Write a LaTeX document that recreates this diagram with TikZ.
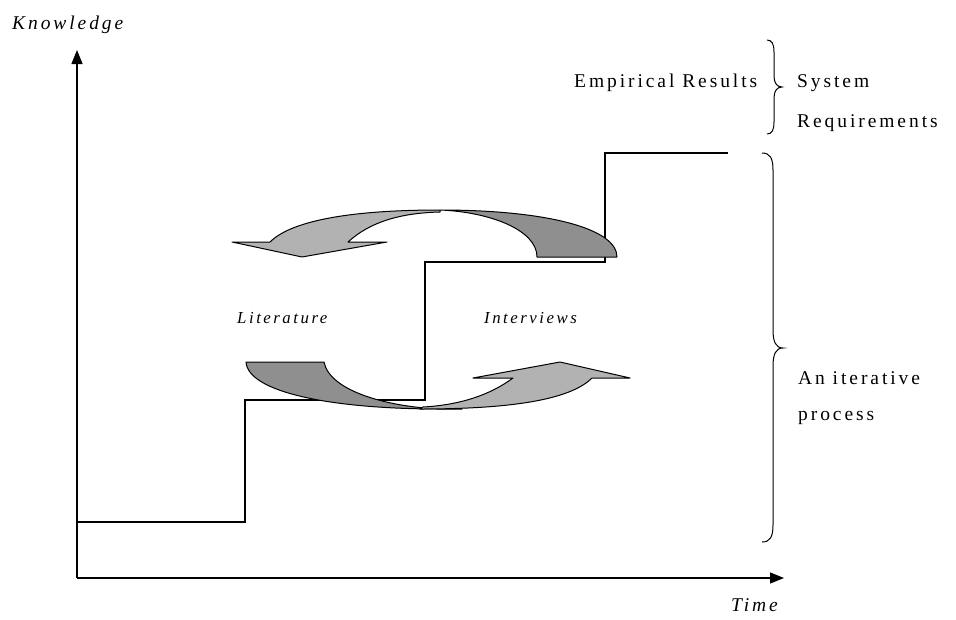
\documentclass[tikz,border=0pt]{standalone}
\usepackage{fontspec}
\setmainfont{Liberation Serif}[LetterSpace=15]
\usetikzlibrary{arrows.meta}
\definecolor{bandlight}{gray}{0.70}
\definecolor{banddark}{gray}{0.56}
\tikzset{
  axis/.style={line width=1.3pt,-{Triangle[length=14pt,width=11pt]}},
  stair/.style={line width=1.2pt},
  band/.style={draw=black,line width=1pt,line join=round},
  curl/.style={line width=1pt},
  lbl/.style={inner sep=0pt,anchor=base west,font=\fontsize{19.5}{22}\selectfont},
  axlbl/.style={inner sep=0pt,anchor=base west,font=\fontsize{19.5}{22}\selectfont\itshape},
  ilbl/.style={inner sep=0pt,anchor=base west,font=\fontsize{16.8}{20}\selectfont\itshape},
}
\begin{document}
\begin{tikzpicture}[x=1pt,y=-1pt]
\useasboundingbox (0,0) rectangle (956,619);

% axes
\coordinate (origin) at (77,578);
\coordinate (ytop) at (77,50);
\coordinate (xend) at (784,578);
\draw[axis] (origin) -- (ytop);
\draw[axis] (origin) -- (xend);

% knowledge staircase
\coordinate (s0) at (77,522);
\coordinate (s1) at (728,153);
\draw[stair] (s0) -- (245,522) -- (245,400) -- (425,400) -- (425,262)
  -- (605,262) -- (605,153) -- (s1);

% upper curved arrow (interviews -> literature)
\path[band,fill=banddark]
  (537,257) -- (617,257) .. controls (617,228) and (545,210) .. (440,210)
  .. controls (490,212) and (537,230) .. cycle;
\path[band,fill=bandlight]
  (440,210) .. controls (345,210) and (290,222) .. (270,242)
  -- (232,242) -- (302,257) -- (387,242) -- (348,242)
  .. controls (370,222) and (400,213) .. (440,212) -- cycle;

% lower curved arrow (literature -> interviews)
\path[band,fill=banddark]
  (246,362) -- (324,362) .. controls (330,392) and (390,407) .. (440,409)
  -- (462,409) -- (440,409) .. controls (330,409) and (248,392) .. cycle;
\path[band,fill=bandlight]
  (420,409) .. controls (510,409) and (570,400) .. (592,378)
  -- (630,378) -- (560,362) -- (473,378) -- (513,378)
  .. controls (490,395) and (460,405) .. (423,407) -- cycle;

% braces
\draw[curl] (767,40) .. controls (772,40) and (774,44) .. (774,52) -- (774,76)
  .. controls (774,83) and (777,87) .. (782,87)
  .. controls (777,87) and (774,91) .. (774,98) -- (774,122)
  .. controls (774,130) and (772,134) .. (767,134);
\draw[curl] (762,153) .. controls (770,153) and (773,158) .. (773,170) -- (773,330)
  .. controls (773,342) and (776,348) .. (783,348)
  .. controls (776,348) and (773,354) .. (773,366) -- (773,525)
  .. controls (773,537) and (770,542) .. (762,542);

% labels
\node[axlbl] (know) at (12,29) {Knowledge};
\node[axlbl] (time) at (731,611) {Time};
\node[lbl] (emp) at (574,87) {Empirical Results};
\node[lbl] (sys) at (797,87) {System};
\node[lbl] (req) at (797,127) {Requirements};
\node[ilbl] (lit) at (237,323) {Literature};
\node[ilbl] (int) at (484,323) {Interviews};
\node[lbl] (iter) at (798,384) {An iterative};
\node[lbl] (proc) at (798,420) {process};
\end{tikzpicture}
\end{document}
